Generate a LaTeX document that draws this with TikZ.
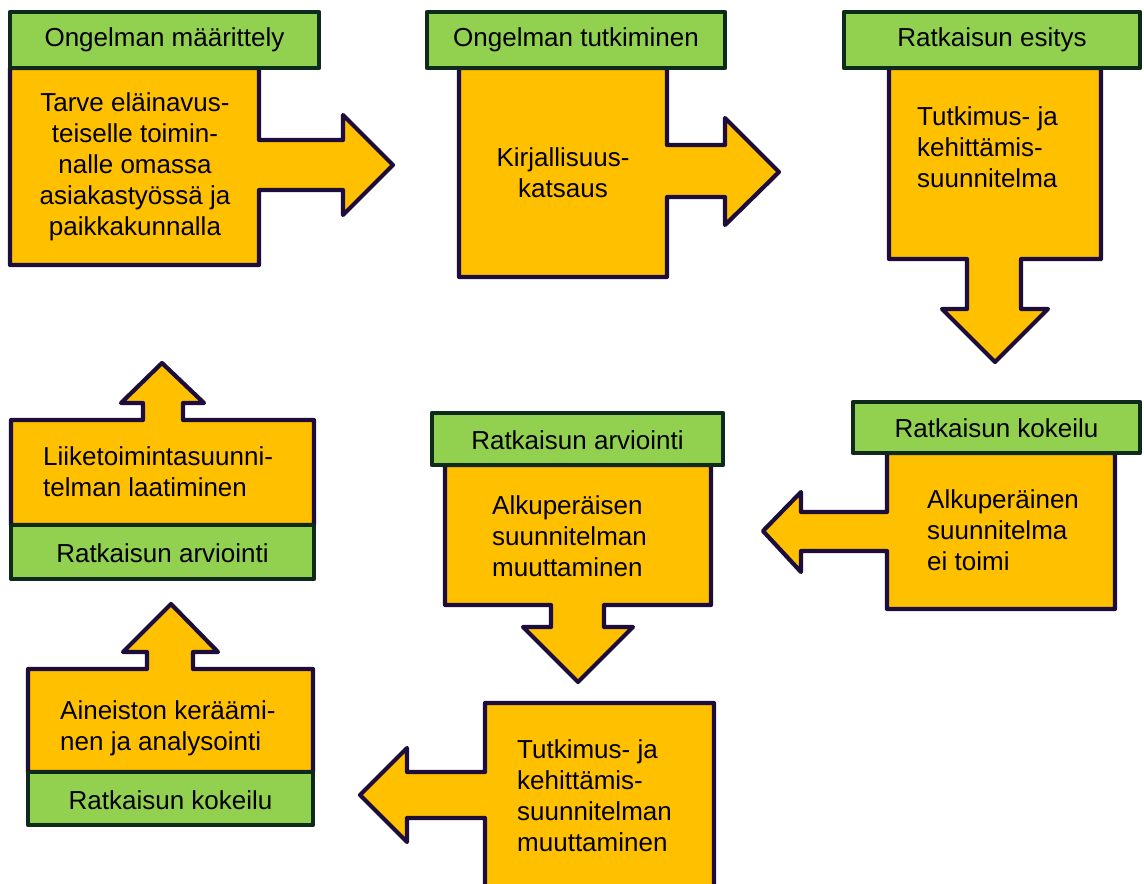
\documentclass[tikz,border=0pt]{standalone}
\usepackage{fontspec}
\setmainfont{Liberation Sans}
\definecolor{orangefill}{HTML}{FFC000}
\definecolor{greenfill}{HTML}{92D050}
\definecolor{orangeline}{HTML}{1C0D3A}
\definecolor{greenline}{HTML}{0E2A1A}
\tikzset{
  oshape/.style={fill=orangefill, draw=orangeline, line width=4.2pt, line join=round},
  gbox/.style={fill=greenfill, draw=greenline, line width=4.2pt, line join=round},
  txt/.style={inner sep=0pt, font=\fontsize{26}{31}\selectfont, text=black},
}
\begin{document}
\begin{tikzpicture}[x=1pt,y=-1pt]
\useasboundingbox (0,0) rectangle (1144,884);
\clip (0,0) rectangle (1144,884);
% 1
\draw[oshape] (10,68)--(259,68)--(259,140)--(343,140)--(343,115)--(393,165)--(343,215)--(343,190)--(259,190)--(259,265)--(10,265)--cycle;
\draw[gbox] (10,12) rectangle (319,68);
\node[txt] (g1) at (164.5,40) {Ongelman määrittely};
\node[txt,align=center] (t1) at (135,167) {Tarve eläinavus-\\teiselle toimin-\\nalle omassa\\asiakastyössä ja\\paikkakunnalla};
% 2
\draw[oshape] (459,68)--(667,68)--(667,145)--(725,145)--(725,118)--(779,172)--(725,225)--(725,197)--(667,197)--(667,277)--(459,277)--cycle;
\draw[gbox] (427,12) rectangle (725,68);
\node[txt] (g2) at (576,40) {Ongelman tutkiminen};
\node[txt,align=center] (t2) at (563,173) {Kirjallisuus-\\katsaus};
% 3
\draw[oshape] (889,68)--(1101,68)--(1101,259)--(1021,259)--(1021,309)--(1048,309)--(995,362)--(942,309)--(967,309)--(967,259)--(889,259)--cycle;
\draw[gbox] (844,12) rectangle (1140,68);
\node[txt] (g3) at (992,40) {Ratkaisun esitys};
\node[txt,align=left,anchor=west] (t3) at (917,147) {Tutkimus- ja\\kehittämis-\\suunnitelma};
% 4
\draw[oshape] (11,420)--(143,420)--(143,403)--(121,403)--(162,363)--(204,403)--(183,403)--(183,420)--(314,420)--(314,525)--(11,525)--cycle;
\draw[gbox] (11,525) rectangle (314,579);
\node[txt] (g4) at (162.5,553) {Ratkaisun arviointi};
\node[txt,align=left,anchor=west] (t4) at (43,472) {Liiketoimintasuunni-\\telman laatiminen};
% 5
\draw[oshape] (445,465)--(711,465)--(711,605)--(604,605)--(604,627)--(633,627)--(578,682)--(523,627)--(551,627)--(551,605)--(445,605)--cycle;
\draw[gbox] (432,413) rectangle (723,465);
\node[txt] (g5) at (577.5,440) {Ratkaisun arviointi};
\node[txt,align=left,anchor=west] (t5) at (492,536) {Alkuperäisen\\suunnitelman\\muuttaminen};
% 6
\draw[oshape] (887,453)--(1115,453)--(1115,609)--(887,609)--(887,551)--(801,551)--(801,572)--(763,531)--(801,492)--(801,512)--(887,512)--cycle;
\draw[gbox] (853,402) rectangle (1140,453);
\node[txt] (g6) at (996.5,428) {Ratkaisun kokeilu};
\node[txt,align=left,anchor=west] (t6) at (927,530) {Alkuperäinen\\suunnitelma\\ei toimi};
% 7
\draw[oshape] (28,669)--(147,669)--(147,652)--(123,652)--(171,604)--(218,652)--(193,652)--(193,669)--(313,669)--(313,772)--(28,772)--cycle;
\draw[gbox] (28,772) rectangle (313,825);
\node[txt] (g7) at (170.5,800) {Ratkaisun kokeilu};
\node[txt,align=left,anchor=west] (t7) at (60,728) {Aineiston keräämi-\\nen ja analysointi};
% 8
\draw[oshape] (485,703)--(714,703)--(714,900)--(485,900)--(485,818)--(407,818)--(407,842)--(360,795)--(407,748)--(407,772)--(485,772)--cycle;
\node[txt,align=left,anchor=west] (t8) at (517,796) {Tutkimus- ja\\kehittämis-\\suunnitelman\\muuttaminen};
\end{tikzpicture}
\end{document}
